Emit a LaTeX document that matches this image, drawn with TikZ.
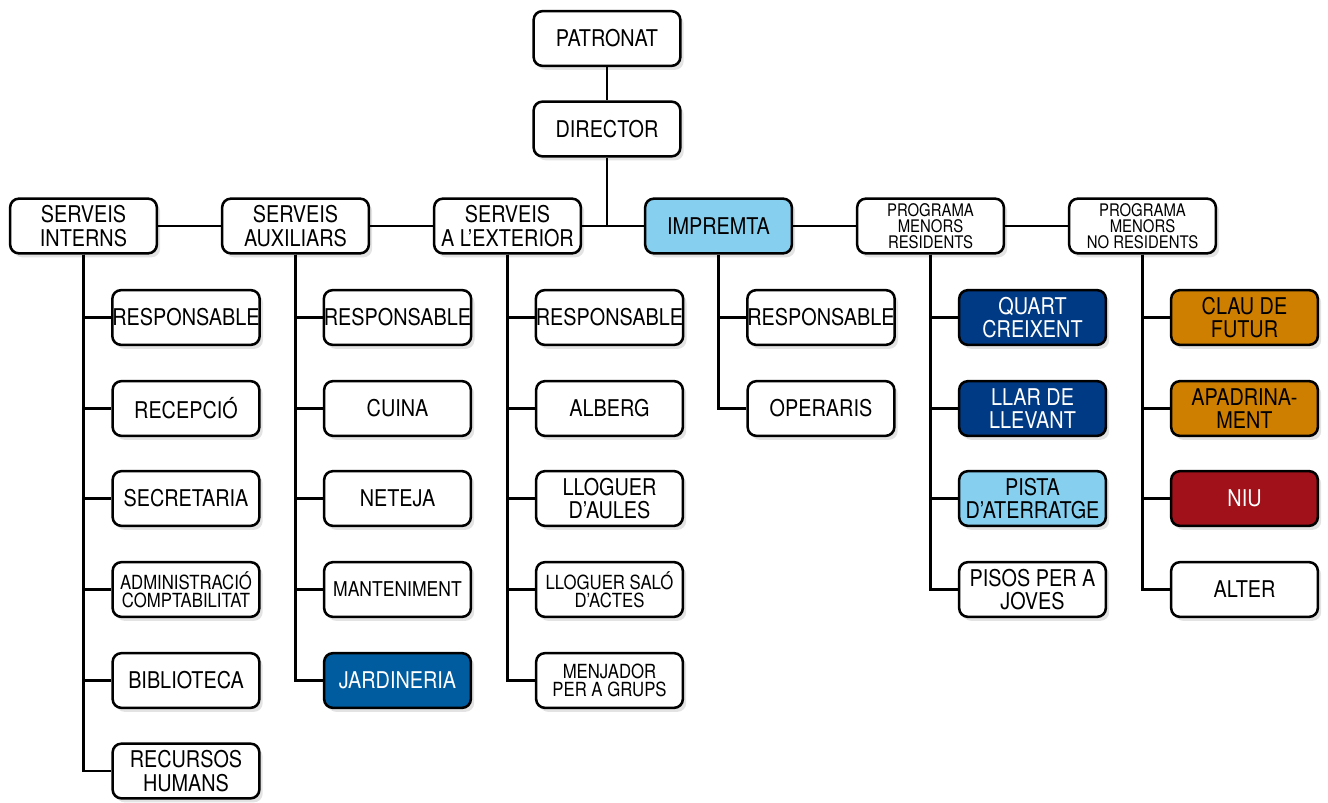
\documentclass[tikz,border=0pt]{standalone}
\usepackage{fontspec}
\setmainfont{TeX Gyre Heros}[FakeStretch=0.86]
\usetikzlibrary{shadows}

\definecolor{skyfill}{HTML}{86CFEF}
\definecolor{navyfill}{HTML}{003A84}
\definecolor{royalfill}{HTML}{005C9F}
\definecolor{amberfill}{HTML}{CF7F00}
\definecolor{winefill}{HTML}{A0111A}

\tikzset{every picture/.style={line width=1.6pt}}
\tikzset{
  orgbox/.style={draw, line width=1.9pt, rounded corners=6.5pt, fill=white,
    minimum width=110pt, minimum height=41pt, inner sep=0pt, align=center,
    font=\fontsize{17.3}{17.5}\selectfont,
    drop shadow={shadow xshift=2.5pt, shadow yshift=-3pt, opacity=0.22}},
  midtxt/.style={font=\fontsize{15.3}{15}\selectfont},
  smalltxt/.style={font=\fontsize{14.6}{13.4}\selectfont},
  tinytxt/.style={font=\fontsize{13}{11.9}\selectfont},
  lighttxt/.style={text=white},
}

\begin{document}
\begin{tikzpicture}[x=0.75pt,y=0.75pt,yscale=-1,xscale=1]
\useasboundingbox (0,0) rectangle (1328,803);

%Head
\node [orgbox] (patronat) at (607,38.5) {PATRONAT};
\node [orgbox] (director) at (607,129) {DIRECTOR};

%Top row
\node [orgbox] (sint) at (83.5,226) {SERVEIS\\INTERNS};
\node [orgbox] (saux) at (295.5,226) {SERVEIS\\AUXILIARS};
\node [orgbox] (sext) at (507.5,226) {SERVEIS\\A L’EXTERIOR};
\node [orgbox, fill=skyfill] (impr) at (718.5,226) {IMPREMTA};
\node [orgbox, tinytxt] (pmr) at (930.5,226) {PROGRAMA\\MENORS\\RESIDENTS};
\node [orgbox, tinytxt] (pmnr) at (1142.5,226) {PROGRAMA\\MENORS\\NO RESIDENTS};

%Serveis interns
\node [orgbox] (si1) at (186,317.5) {RESPONSABLE};
\node [orgbox] (si2) at (186,408.5) {RECEPCIÓ};
\node [orgbox] (si3) at (186,498.5) {SECRETARIA};
\node [orgbox, smalltxt] (si4) at (186,589.5) {ADMINISTRACIÓ\\COMPTABILITAT};
\node [orgbox] (si5) at (186,680.5) {BIBLIOTECA};
\node [orgbox] (si6) at (186,771) {RECURSOS\\HUMANS};

%Serveis auxiliars
\node [orgbox] (sa1) at (397.5,317.5) {RESPONSABLE};
\node [orgbox] (sa2) at (397.5,408.5) {CUINA};
\node [orgbox] (sa3) at (397.5,498.5) {NETEJA};
\node [orgbox, midtxt] (sa4) at (397.5,589.5) {MANTENIMENT};
\node [orgbox, fill=royalfill, lighttxt] (sa5) at (397.5,680.5) {JARDINERIA};

%Serveis a l'exterior
\node [orgbox] (se1) at (609.5,317.5) {RESPONSABLE};
\node [orgbox] (se2) at (609.5,408.5) {ALBERG};
\node [orgbox] (se3) at (609.5,498.5) {LLOGUER\\D’AULES};
\node [orgbox, smalltxt] (se4) at (609.5,589.5) {LLOGUER SALÓ\\D’ACTES};
\node [orgbox, smalltxt] (se5) at (609.5,680.5) {MENJADOR\\PER A GRUPS};

%Impremta
\node [orgbox] (im1) at (821,317.5) {RESPONSABLE};
\node [orgbox] (im2) at (821,408.5) {OPERARIS};

%Programa menors residents
\node [orgbox, fill=navyfill, lighttxt] (pr1) at (1032.5,317.5) {QUART\\CREIXENT};
\node [orgbox, fill=navyfill, lighttxt] (pr2) at (1032.5,408.5) {LLAR DE\\LLEVANT};
\node [orgbox, fill=skyfill] (pr3) at (1032.5,498.5) {PISTA\\D’ATERRATGE};
\node [orgbox] (pr4) at (1032.5,589.5) {PISOS PER A\\JOVES};

%Programa menors no residents
\node [orgbox, fill=amberfill] (pn1) at (1244.5,317.5) {CLAU DE\\FUTUR};
\node [orgbox, fill=amberfill] (pn2) at (1244.5,408.5) {APADRINA-\\MENT};
\node [orgbox, fill=winefill, lighttxt] (pn3) at (1244.5,498.5) {NIU};
\node [orgbox] (pn4) at (1244.5,589.5) {ALTER};

%Connectors
\draw (patronat) -- (director);
\draw (director) -- (director |- sext);
\draw (sint) -- (saux) -- (sext) -- (impr) -- (pmr) -- (pmnr);

\draw (sint) |- (si1);
\draw (sint) |- (si2);
\draw (sint) |- (si3);
\draw (sint) |- (si4);
\draw (sint) |- (si5);
\draw (sint) |- (si6);

\draw (saux) |- (sa1);
\draw (saux) |- (sa2);
\draw (saux) |- (sa3);
\draw (saux) |- (sa4);
\draw (saux) |- (sa5);

\draw (sext) |- (se1);
\draw (sext) |- (se2);
\draw (sext) |- (se3);
\draw (sext) |- (se4);
\draw (sext) |- (se5);

\draw (impr) |- (im1);
\draw (impr) |- (im2);

\draw (pmr) |- (pr1);
\draw (pmr) |- (pr2);
\draw (pmr) |- (pr3);
\draw (pmr) |- (pr4);

\draw (pmnr) |- (pn1);
\draw (pmnr) |- (pn2);
\draw (pmnr) |- (pn3);
\draw (pmnr) |- (pn4);

\end{tikzpicture}
\end{document}
